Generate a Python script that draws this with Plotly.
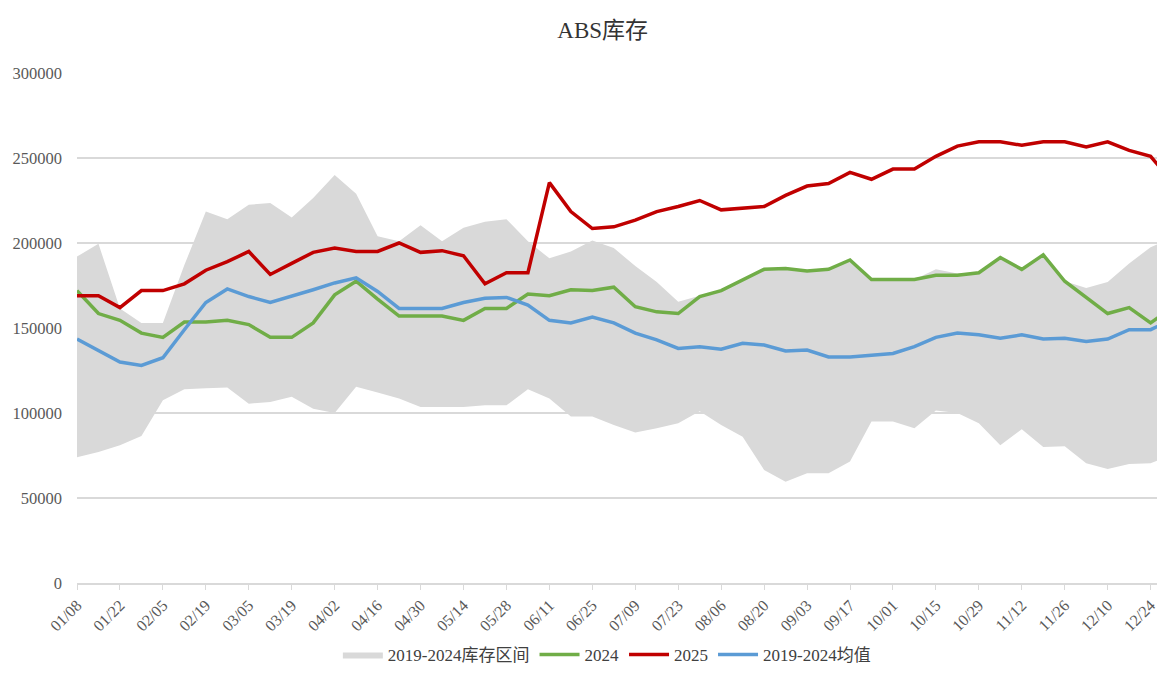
import plotly.graph_objects as go

weeks = [
    "01/08", "01/15", "01/22", "01/29", "02/05", "02/12", "02/19", "02/26",
    "03/05", "03/12", "03/19", "03/26", "04/02", "04/09", "04/16", "04/23",
    "04/30", "05/07", "05/14", "05/21", "05/28", "06/04", "06/11", "06/18",
    "06/25", "07/02", "07/09", "07/16", "07/23", "07/30", "08/06", "08/13",
    "08/20", "08/27", "09/03", "09/10", "09/17", "09/24", "10/01", "10/08",
    "10/15", "10/22", "10/29", "11/05", "11/12", "11/19", "11/26", "12/03",
    "12/10", "12/17", "12/24", "12/31",
]

range_low = [
    74000, 77000, 81000, 86500, 107500, 114000, 114500, 115000, 105500, 106500,
    109500, 102500, 100000, 115500, 112000, 108500, 103500, 103500, 103500, 104500,
    104500, 114000, 108500, 98000, 98000, 93000, 88500, 91000, 94000, 101000,
    93000, 86000, 66500, 59500, 64500, 64500, 71500, 95000, 95000, 91000,
    101500, 100000, 94000, 81000, 90500, 80000, 80500, 70500, 67000, 70000,
    70500, 75000,
]

range_high = [
    192000, 199500, 161500, 153000, 153000, 187000, 218500, 214000, 222500, 223500,
    215000, 226500, 240000, 229000, 204000, 201000, 210500, 201000, 209000, 212500,
    214000, 201000, 191000, 195000, 201500, 197000, 186500, 177000, 165500, 169000,
    172000, 178500, 184500, 185000, 183500, 184500, 190000, 178500, 178500, 178500,
    184500, 182000, 182500, 191500, 184500, 193000, 177500, 173500, 177000, 188000,
    197500, 203000,
]

y2024 = [
    172000, 158500, 154500, 147000, 144500, 153500, 153500, 154500, 152000, 144500,
    144500, 153000, 169500, 177500, 167000, 157000, 157000, 157000, 154500, 161500,
    161500, 170000, 169000, 172500, 172000, 174000, 162500, 159500, 158500, 168500,
    172000, 178500, 184500, 185000, 183500, 184500, 190000, 178500, 178500, 178500,
    181000, 181000, 182500, 191500, 184500, 193000, 177500, 168000, 158500, 162000,
    153000, 162000,
]

y2025 = [
    169000, 169000, 162000, 172000, 172000, 176000, 184000, 189000, 195000, 181500,
    188000, 194500, 197000, 195000, 195000, 200000, 194500, 195500, 192500, 176000,
    182500, 182500, 235500, 218500, 208500, 209500, 213500, 218500, 221500, 225000,
    219500, 220500, 221500, 228000, 233500, 235000, 241500, 237500, 243500, 243500,
    251000, 257000, 259500, 259500, 257500, 259500, 259500, 256500, 259500, 254500,
    251000, 236000,
]

avg_2019_2024 = [
    143500, 137000, 130000, 128000, 132500, 149000, 165000, 173000, 168500, 165000,
    168500, 172500, 176500, 179500, 171500, 161500, 161500, 161500, 165000, 167500,
    168000, 163500, 154500, 153000, 156500, 153000, 147000, 143000, 138000, 139000,
    137500, 141000, 140000, 136500, 137000, 133000, 133000, 134000, 135000, 139000,
    144500, 147000, 146000, 144000, 146000, 143500, 144000, 142000, 143500, 149000,
    149000, 155000,
]

FONT = "Liberation Serif, Times New Roman, Noto Sans CJK SC, serif"

fig = go.Figure()

# band = lower edge (invisible) + upper edge filled down to it
fig.add_trace(
    go.Scatter(
        x=weeks, y=range_low, mode="lines", line=dict(width=0),
        showlegend=False, hoverinfo="skip",
    )
)
fig.add_trace(
    go.Scatter(
        x=weeks, y=range_high, mode="lines", line=dict(width=0),
        fill="tonexty", fillcolor="#d9d9d9", name="2019-2024库存区间",
    )
)
fig.add_trace(
    go.Scatter(x=weeks, y=y2024, mode="lines", name="2024",
               line=dict(color="#70ad47", width=3.5))
)
fig.add_trace(
    go.Scatter(x=weeks, y=y2025, mode="lines", name="2025",
               line=dict(color="#c00000", width=3.5))
)
fig.add_trace(
    go.Scatter(x=weeks, y=avg_2019_2024, mode="lines", name="2019-2024均值",
               line=dict(color="#5b9bd5", width=3.5))
)

# page body has an 8px margin, so the figure is sized to the remaining area
fig.update_layout(
    width=1157,
    height=665,
    autosize=False,
    paper_bgcolor="white",
    plot_bgcolor="white",
    margin=dict(l=69, r=0, t=65, b=90, autoexpand=False),
    font=dict(family=FONT, size=16, color="#595959"),
    title=dict(
        text="ABS库存", x=0.514, xanchor="center", y=0.967, yanchor="middle",
        font=dict(family=FONT, size=23, color="#333333"),
    ),
    legend=dict(
        orientation="h", x=0.487, xanchor="center",
        yref="container", y=0.0, yanchor="bottom",
        font=dict(family=FONT, size=17, color="#404040"),
        traceorder="normal", itemwidth=40,
    ),
    showlegend=True,
)

fig.update_xaxes(
    type="category",
    range=[0, 50.67],
    automargin=False,
    tickmode="array",
    tickvals=weeks[::2],
    ticktext=weeks[::2],
    tickangle=-45,
    ticks="outside",
    ticklen=5,
    tickcolor="#d9d9d9",
    showline=True,
    linecolor="#d9d9d9",
    linewidth=1.5,
    showgrid=False,
    tickfont=dict(family=FONT, size=16, color="#595959"),
)

fig.update_yaxes(
    range=[0, 300000],
    dtick=50000,
    tickformat="d",
    automargin=False,
    showgrid=True,
    gridcolor="#d9d9d9",
    gridwidth=1.5,
    zeroline=False,
    showline=False,
    ticks="",
    ticklabelstandoff=14,
    tickfont=dict(family=FONT, size=16.5, color="#595959"),
)

fig.write_html("out.html")
